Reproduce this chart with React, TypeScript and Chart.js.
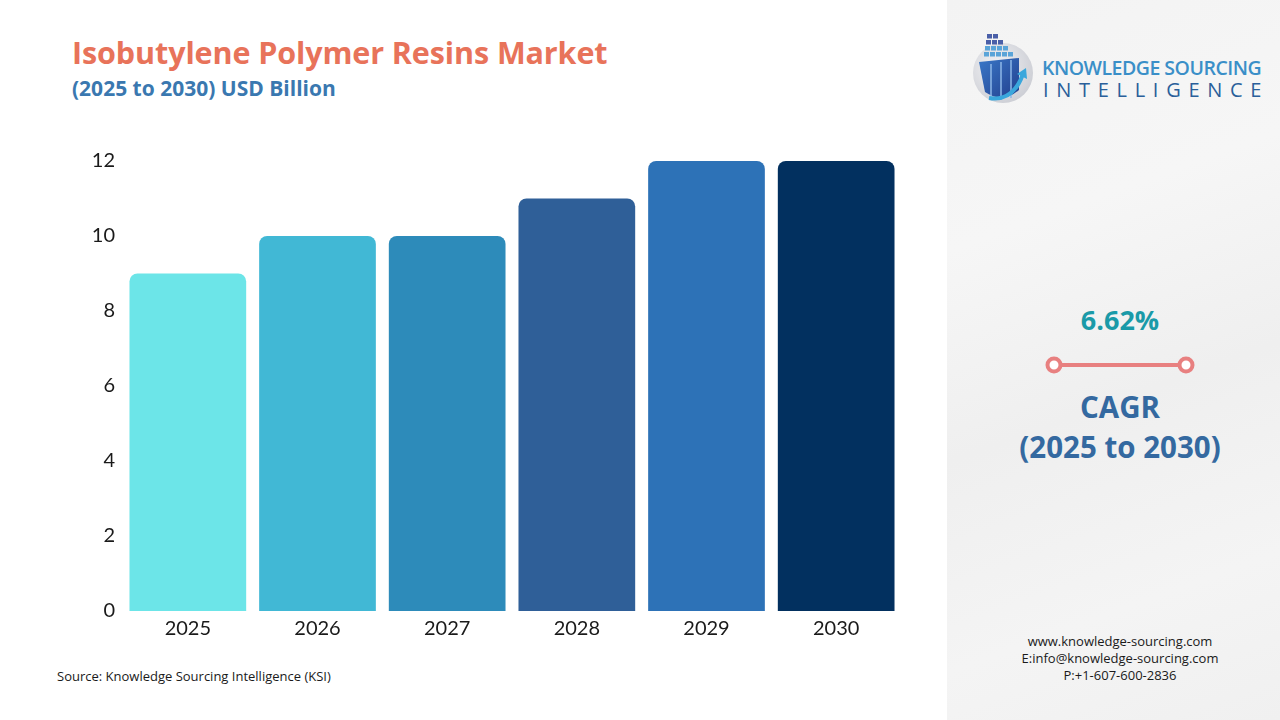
import React, { useEffect, useRef } from "react";
import { Chart, registerables } from "chart.js";

Chart.register(...registerables);

const years = ["2025", "2026", "2027", "2028", "2029", "2030"];
const marketValues = [9, 10, 10, 11, 12, 12];
const barColors = ["#6ce5e8", "#41b8d5", "#2d8bba", "#2f5f98", "#2d72b7", "#02305f"];
const yTicks = [0, 2, 4, 6, 8, 10, 12];

const title = "Isobutylene Polymer Resins Market";
const subtitle = "(2025 to 2030) USD Billion";
const cagrValue = "6.62%";
const cagrLabel = "CAGR";
const cagrPeriod = "(2025 to 2030)";
const sourceText = "Source: Knowledge Sourcing Intelligence (KSI)";
const contactLines = ["www.knowledge-sourcing.com", "E:info@knowledge-sourcing.com", "P:+1-607-600-2836"];

const FONT = "'Open Sans', 'Noto Sans', sans-serif";
const TICK_FONT = "Lato, 'Noto Sans', sans-serif";

function BarChart() {
  const ref = useRef<HTMLCanvasElement | null>(null);
  useEffect(() => {
    if (!ref.current) return;
    const chart = new Chart(ref.current, {
      type: "bar",
      data: {
        labels: years,
        datasets: [
          {
            data: marketValues,
            backgroundColor: barColors,
            borderRadius: 8,
            borderSkipped: "bottom",
            barPercentage: 0.9,
            categoryPercentage: 1.0,
          },
        ],
      },
      options: {
        animation: false,
        responsive: false,
        maintainAspectRatio: false,
        layout: { padding: { left: 0, right: 19, top: 31, bottom: 0 } },
        plugins: { legend: { display: false }, tooltip: { enabled: false } },
        scales: {
          x: {
            grid: { display: false, drawTicks: false },
            border: { display: false },
            ticks: { color: "#1a1a1a", font: { family: TICK_FONT, size: 20 }, padding: 6 },
            afterFit: (s: any) => { s.height = 49; },
          },
          y: {
            min: 0,
            max: 12,
            afterBuildTicks: (s: any) => { s.ticks = yTicks.map((v) => ({ value: v })); },
            grid: { display: false, drawTicks: false },
            border: { display: false },
            ticks: { color: "#1a1a1a", font: { family: TICK_FONT, size: 20 }, padding: 8 },
            afterFit: (s: any) => { s.width = 83; },
          },
        },
      },
    });
    return () => chart.destroy();
  }, []);
  return (
    <canvas
      ref={ref}
      width={880}
      height={530}
      style={{ position: "absolute", left: 40, top: 130, width: 880, height: 530 }}
    />
  );
}

function Logo() {
  return (
    <svg width={80} height={80} viewBox="0 0 80 80" style={{ position: "absolute", left: 963, top: 28 }}>
      <defs>
        <radialGradient id="lg" cx="0.4" cy="0.4" r="0.7">
          <stop offset="0" stopColor="#f4f4f6" />
          <stop offset="1" stopColor="#c9cbd2" />
        </radialGradient>
        <linearGradient id="bb" x1="0" y1="0" x2="1" y2="1">
          <stop offset="0" stopColor="#3a78c8" />
          <stop offset="1" stopColor="#23408e" />
        </linearGradient>
      </defs>
      <circle cx={40} cy={45} r={30} fill="url(#lg)" />
      {[0, 1, 2, 3].map((r) =>
        [0, 1, 2, 3, 4].slice(0, r + 2).map((c) => (
          <rect key={`${r}-${c}`} x={24 + c * 6 - r} y={6 + r * 6} width={5} height={4.5} fill={r < 2 ? "#4a5fa8" : "#5aa4d8"} />
        ))
      )}
      <path d="M16 34 L56 30 L56 62 Q40 76 22 64 Z" fill="url(#bb)" />
      <path d="M28 36 L28 68 M38 34 L38 72 M48 32 L48 70" stroke="#8fb8e8" strokeWidth={1.5} />
      <path d="M26 70 Q50 74 60 46" stroke="#3aa7dc" strokeWidth={4} fill="none" />
      <path d="M54 46 L63 40 L64 51 Z" fill="#3aa7dc" />
    </svg>
  );
}

export default function App() {
  return (
    <div style={{ position: "fixed", left: 0, top: 0, width: 1280, height: 720, background: "#ffffff", overflow: "hidden", fontFamily: FONT }}>
      <div
        style={{
          position: "absolute",
          left: 947,
          top: 0,
          width: 333,
          height: 720,
          background: "linear-gradient(160deg, #f3f3f3 0%, #f6f6f6 30%, #efefef 55%, #f4f4f4 80%, #f0f0f0 100%)",
        }}
      />
      <div style={{ position: "absolute", left: 72, top: 31, fontSize: 30.5, fontWeight: 700, color: "#e8735a", whiteSpace: "nowrap", letterSpacing: -0.1 }}>
        {title}
      </div>
      <div style={{ position: "absolute", left: 72, top: 74, fontSize: 21, fontWeight: 700, color: "#3a78b0", whiteSpace: "nowrap" }}>
        {subtitle}
      </div>
      <BarChart />
      <div style={{ position: "absolute", left: 57, top: 667, fontSize: 13, color: "#1a1a1a", whiteSpace: "nowrap" }}>{sourceText}</div>

      <Logo />
      <div style={{ position: "absolute", left: 1042, top: 54, fontSize: 19.5, fontWeight: 600, color: "#3a8fc8", whiteSpace: "nowrap", letterSpacing: -0.5 }}>
        KNOWLEDGE SOURCING
      </div>
      <div style={{ position: "absolute", left: 1043, top: 76, fontSize: 20, fontWeight: 400, color: "#2a5f9a", whiteSpace: "nowrap", letterSpacing: 7.7 }}>
        INTELLIGENCE
      </div>

      <div style={{ position: "absolute", left: 947, width: 346, top: 301, textAlign: "center", fontSize: 27, fontWeight: 700, color: "#1a9aa8" }}>{cagrValue}</div>
      <svg width={160} height={30} style={{ position: "absolute", left: 1040, top: 350 }}>
        <line x1={14} y1={15} x2={146} y2={15} stroke="#e88080" strokeWidth={4} />
        <circle cx={14} cy={15} r={6.5} fill="#ffffff" stroke="#e88080" strokeWidth={4} />
        <circle cx={146} cy={15} r={6.5} fill="#ffffff" stroke="#e88080" strokeWidth={4} />
      </svg>
      <div style={{ position: "absolute", left: 947, width: 346, top: 386, textAlign: "center", fontSize: 29.5, fontWeight: 700, color: "#3469a0" }}>{cagrLabel}</div>
      <div style={{ position: "absolute", left: 947, width: 346, top: 426, textAlign: "center", fontSize: 29.5, fontWeight: 700, color: "#3469a0", whiteSpace: "nowrap" }}>{cagrPeriod}</div>

      <div style={{ position: "absolute", left: 947, width: 346, top: 633, textAlign: "center", fontSize: 13, lineHeight: "17px", color: "#1a1a1a" }}>
        {contactLines.map((l) => (
          <div key={l}>{l}</div>
        ))}
      </div>
    </div>
  );
}
